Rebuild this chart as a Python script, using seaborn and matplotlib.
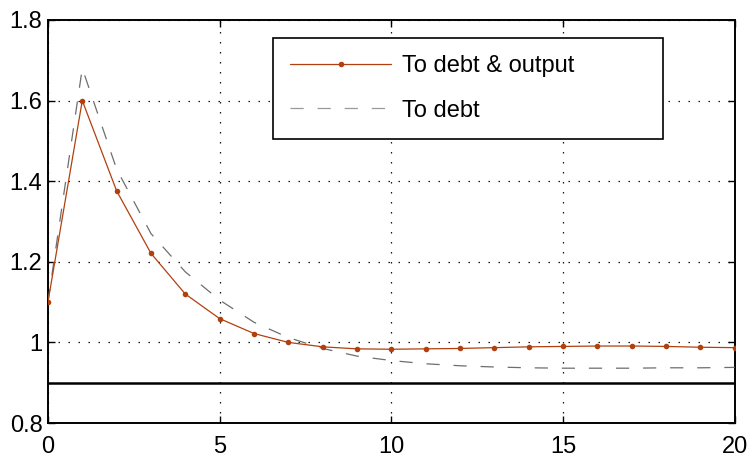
import matplotlib
matplotlib.use("Agg")
import matplotlib.pyplot as plt
import seaborn as sns
import numpy as np
import pandas as pd

# ---- data ----
periods = list(range(0, 21))
to_debt_output = [1.10, 1.60, 1.376, 1.221, 1.120, 1.059, 1.022, 1.000, 0.989, 0.984, 0.983,
                  0.984, 0.985, 0.987, 0.989, 0.990, 0.991, 0.991, 0.990, 0.988, 0.987]
to_debt = [1.10, 1.68, 1.43, 1.27, 1.175, 1.105, 1.05, 1.012, 0.985, 0.966, 0.955,
           0.947, 0.942, 0.939, 0.937, 0.936, 0.936, 0.936, 0.937, 0.937, 0.938]
ref_level = 0.9
labels = ["To debt & output", "To debt"]
x_ticks = [0, 5, 10, 15, 20]
y_ticks = [0.8, 1.0, 1.2, 1.4, 1.6, 1.8]
y_ticklabels = ["0.8", "1", "1.2", "1.4", "1.6", "1.8"]

sns.set_style("ticks")
plt.rcParams['font.family'] = ['Liberation Sans', 'DejaVu Sans']
plt.rcParams['lines.scale_dashes'] = False
plt.rcParams['text.color'] = 'black'

fig = plt.figure(figsize=(7.49, 4.58), dpi=100)
ax = fig.add_axes([0.064, 0.0764, 0.917, 0.88])

red = "#b2400f"
sns.lineplot(x=periods, y=to_debt_output, ax=ax, color=red, lw=0.9,
             marker='o', markersize=4, markeredgewidth=0, label=labels[0], zorder=4)
sns.lineplot(x=periods, y=to_debt, ax=ax, color="#6e6e6e", lw=0.9,
             label=labels[1], zorder=3)
ax.lines[-1].set_dashes((9.5, 10))
ax.axhline(ref_level, color="black", lw=1.8, zorder=2)

ax.set_xlim(0, 20)
ax.set_ylim(0.8, 1.8)
ax.set_xticks(x_ticks)
ax.set_yticks(y_ticks)
ax.set_yticklabels(y_ticklabels)
ax.tick_params(direction="in", length=5, width=1, top=True, right=True,
               labelsize=17, colors="black")
ax.tick_params(axis="x", pad=9)
ax.tick_params(axis="y", pad=4)
ax.grid(True, color="black", linestyle=(0, (1, 6.2)), lw=0.9)
for s in ax.spines.values():
    s.set_linewidth(1.4)
    s.set_color("black")

# legend box in axes fraction: left, bottom, width, height
leg = ax.legend(loc="upper left", bbox_to_anchor=(0.3275, 0.71, 0.5675, 0.245),
                mode="expand", fontsize=17,
                frameon=True, fancybox=False, edgecolor="black", framealpha=1,
                handlelength=4.3, handletextpad=0.45, borderpad=0.72,
                labelspacing=0.95, borderaxespad=0)
leg.get_frame().set_linewidth(1.2)
for t in leg.get_texts():
    t.set_color("black")
leg.legend_handles[1].set_color("#999999")

fig.savefig("out.png", dpi=100)
